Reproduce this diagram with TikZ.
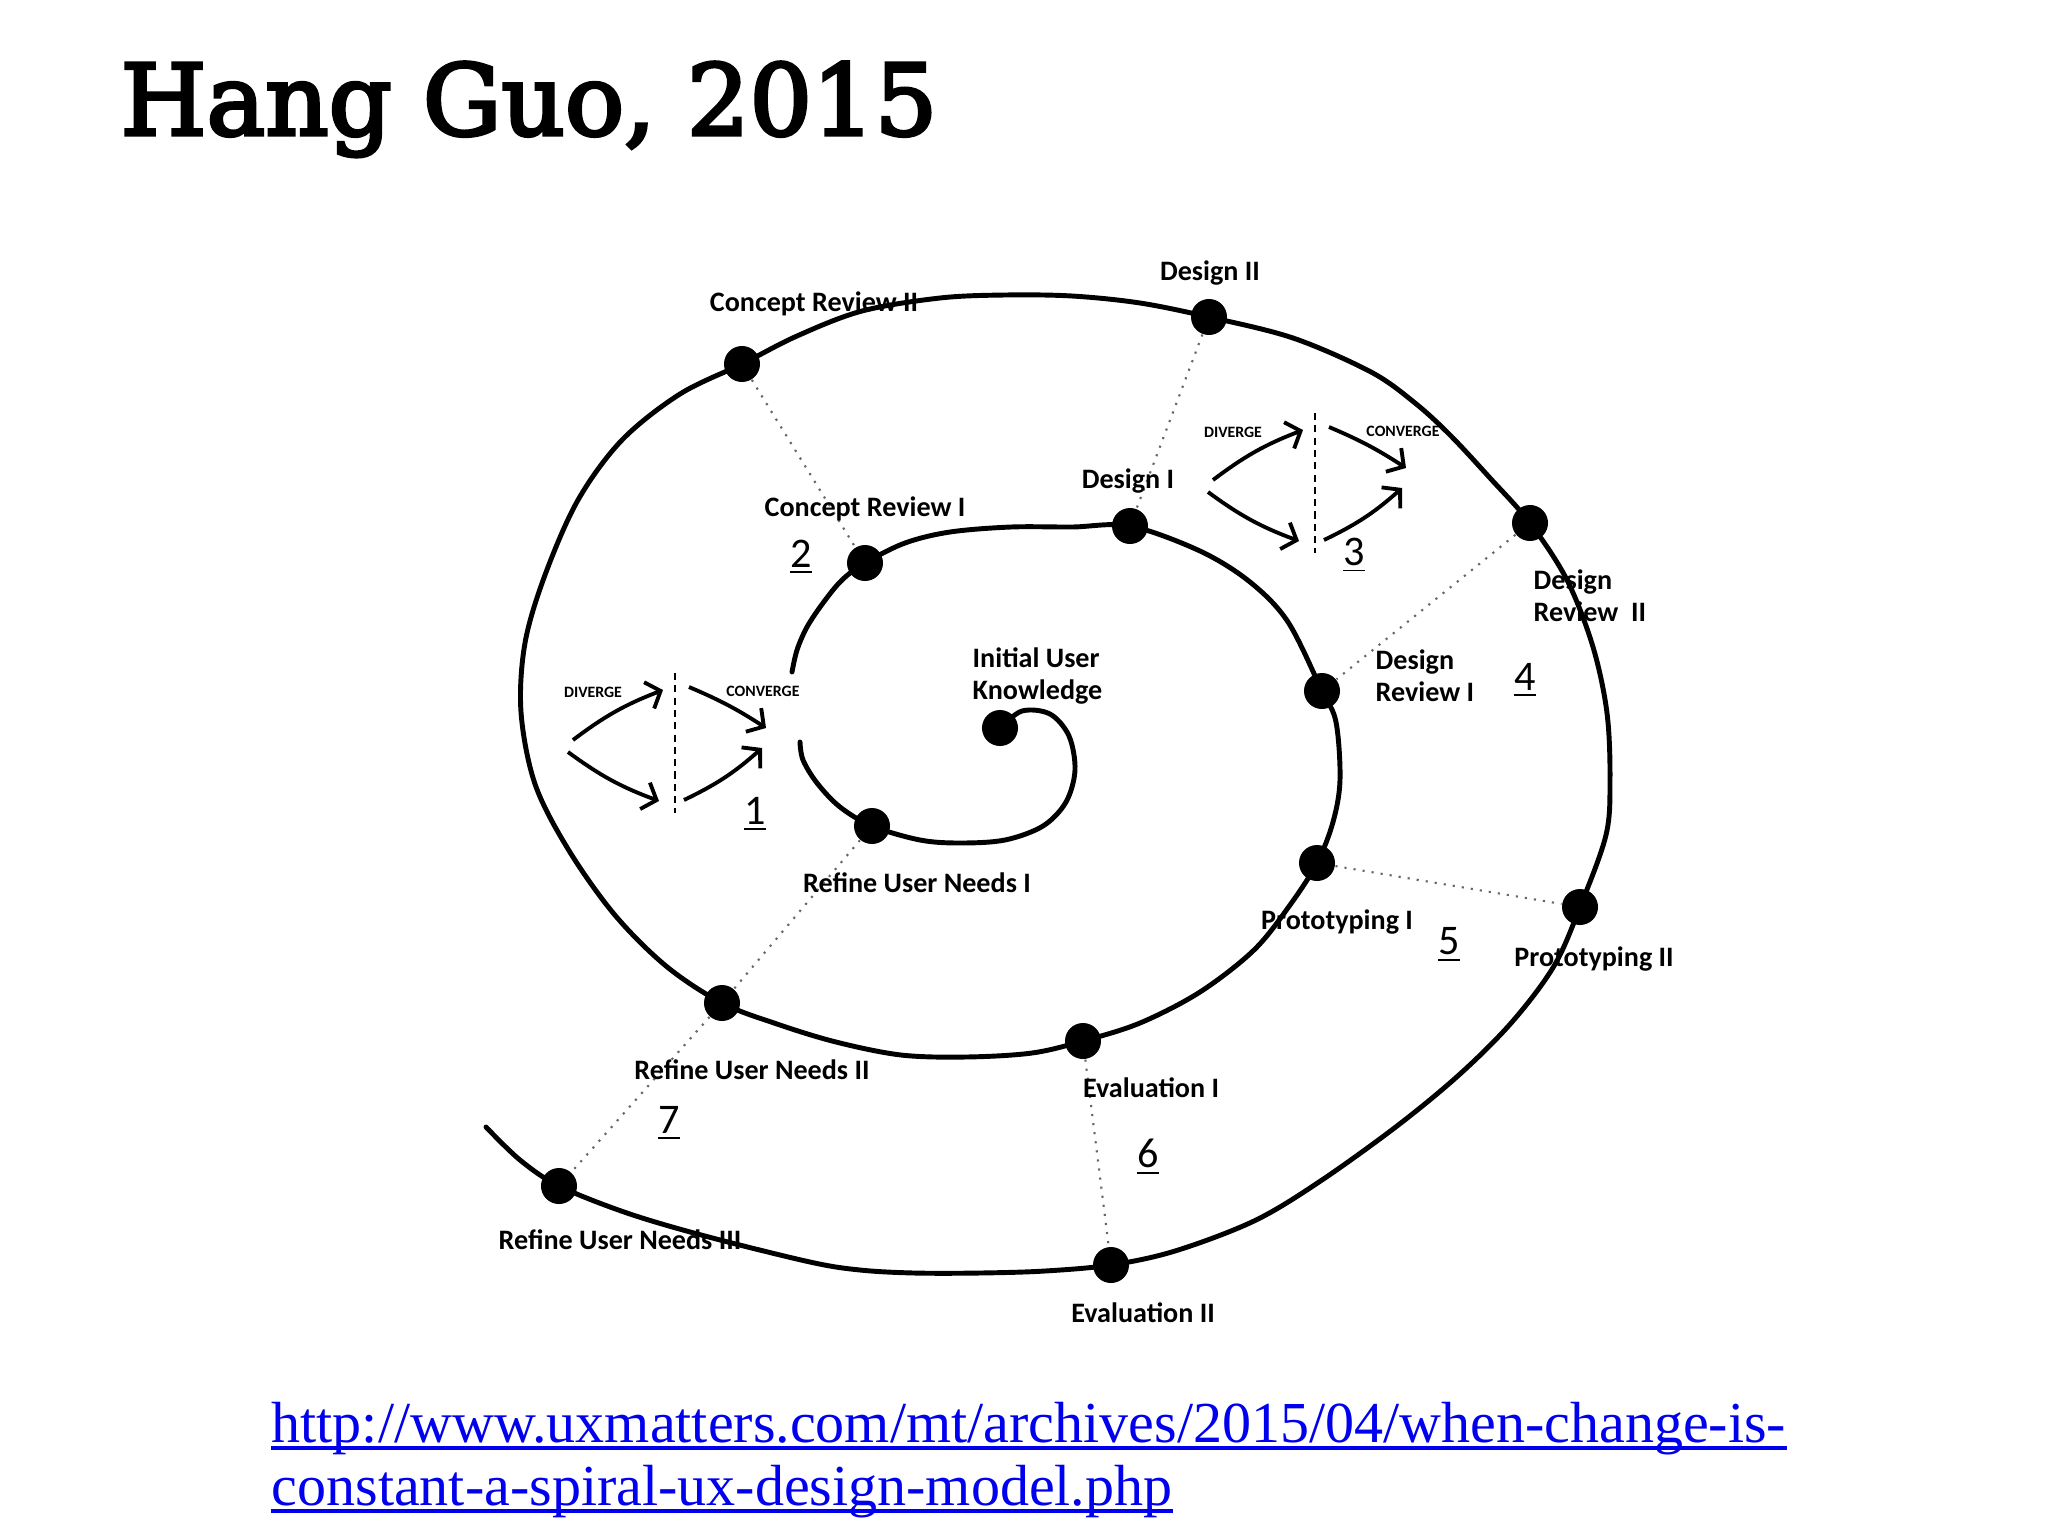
\documentclass[tikz,border=0pt]{standalone}
\usepackage{fontspec}
\setmainfont{Carlito}
\newfontfamily\titlefont[FakeBold=3.5]{DejaVu Serif}
\newfontfamily\urlfont{Liberation Serif}
\usepackage{xcolor}
\usetikzlibrary{shapes,arrows,arrows.meta,positioning,calc}

\definecolor{linkblue}{RGB}{0,0,238}

\tikzset{
  dot/.style={circle, fill=black, inner sep=0pt, minimum size=0.36cm},
  spiral/.style={line width=1.4pt, line cap=round},
  guide/.style={dotted, line width=0.6pt, black!60},
  stage/.style={font=\bfseries\fontsize{8}{9.2}\selectfont, inner sep=0pt},
  phase/.style={font=\fontsize{12}{13}\selectfont, inner sep=0pt},
  tiny/.style={font=\bfseries\fontsize{4.5}{5}\selectfont, inner sep=0pt},
  flow/.style={line width=1.1pt, -{Straight Barb[length=3.5pt,width=8pt]}},
  split/.style={dashed, dash pattern=on 2pt off 1.5pt, line width=0.5pt},
  url/.style={font=\urlfont\fontsize{16.5}{18}\selectfont, text=linkblue, inner sep=0pt},
  urlline/.style={linkblue, line width=1.1pt}
}

\begin{document}
\begin{tikzpicture}[x=0.01cm, y=-0.01cm]
    \fill[white] (0,0) rectangle (2048,1536);
    \useasboundingbox (0,0) rectangle (2048,1536);

    % title and source
    \node (title) [anchor=base west, inner sep=0pt, font=\titlefont\fontsize{28}{30}\selectfont] at (120,135) {Hang Guo, 2015};
    \node (url) [url, anchor=base west] at (271,1442) {http://www.uxmatters.com/mt/archives/2015/04/when-change-is-};
    \node (url2) [url, anchor=base west] at (271,1505) {constant-a-spiral-ux-design-model.php};
    \draw [urlline] ($(url.base west)+(0,6)$) -- ($(url.base east)+(0,6)$);
    \draw [urlline] ($(url2.base west)+(0,6)$) -- ($(url2.base east)+(0,6)$);

    % stages on the spiral
    \node (iuk) [dot] at (1000,728) {};
    \node (rn1) [dot] at (872,826) {};
    \node (cr1) [dot] at (865,563) {};
    \node (ds1) [dot] at (1130,526) {};
    \node (dr1) [dot] at (1322,691) {};
    \node (pt1) [dot] at (1317,863) {};
    \node (ev1) [dot] at (1083,1041) {};
    \node (rn2) [dot] at (722,1003) {};
    \node (cr2) [dot] at (742,364) {};
    \node (ds2) [dot] at (1209,317) {};
    \node (dr2) [dot] at (1530,523) {};
    \node (pt2) [dot] at (1580,907) {};
    \node (ev2) [dot] at (1111,1265) {};
    \node (rn3) [dot] at (559,1186) {};

    % the spiral
    \draw [spiral] plot [smooth, tension=0.55] coordinates {(iuk.center) (1022,711) (1050,714) (1069,736) (1075,770) (1066,802) (1043,826) (1005,840) (960,843) (920,840) (rn1.center) (840,807) (817,783) (803,760) (800,742)};
    \draw [spiral] plot [smooth, tension=0.55] coordinates {(792,672) (797,650) (807,627) (823,603) (842,580) (cr1.center) (905,543) (950,532) (1011,527) (1072,527) (ds1.center) (1200,551) (1250,582) (1288,622) (dr1.center) (1336,722) (1340,780) (1333,822) (pt1.center) (1290,905) (1254,950) (1200,992) (1140,1023) (ev1.center) (1032,1053) (966,1057) (901,1055) (836,1042) (777,1024) (rn2.center) (666,966) (614,914) (568,849) (535,784) (521,712) (525,643) (545,575) (578,500) (622,440) (680,394) (cr2.center) (797,336) (862,311) (940,298) (1005,295) (1072,296) (1140,303) (ds2.center) (1293,338) (1371,372) (1415,403) (1450,435) (1490,478) (dr2.center) (1567,580) (1593,647) (1607,713) (1610,780) (1606,835) (pt2.center) (1554,966) (1512,1022) (1460,1074) (1397,1126) (1319,1182) (1254,1221) (1175,1251) (ev2.center) (1045,1271) (980,1273) (914,1273) (860,1270) (810,1262) (705,1236) (627,1213) (rn3.center) (520,1160) (486,1127)};

    % dotted links between rounds
    \draw [guide] (cr2) -- (cr1);
    \draw [guide] (ds2) -- (ds1);
    \draw [guide] (dr2) -- (dr1);
    \draw [guide] (pt1) -- (pt2);
    \draw [guide] (ev1) -- (ev2);
    \draw [guide] (rn1) -- (rn2);
    \draw [guide] (rn2) -- (rn3);

    % stage labels
    \node (l-iuk) [stage, anchor=west, align=left] at (972,676) {Initial User\\Knowledge};
    \node (l-rn1) [stage, anchor=base] at (917,892) {Refine User Needs I};
    \node (l-cr1) [stage, anchor=base] at (865,516) {Concept Review I};
    \node (l-ds1) [stage, anchor=base] at (1128,488) {Design I};
    \node (l-dr1) [stage, anchor=west, align=left] at (1375,676) {Design\\Review I};
    \node (l-pt1) [stage, anchor=base] at (1337,929) {Prototyping I};
    \node (l-ev1) [stage, anchor=base] at (1151,1097) {Evaluation I};
    \node (l-rn2) [stage, anchor=base] at (752,1079) {Refine User Needs II};
    \node (l-cr2) [stage, anchor=base] at (814,311) {Concept Review II};
    \node (l-ds2) [stage, anchor=base] at (1210,280) {Design II};
    \node (l-dr2) [stage, anchor=west, align=left] at (1533,596) {Design\\Review~ II};
    \node (l-pt2) [stage, anchor=base] at (1594,966) {Prototyping II};
    \node (l-ev2) [stage, anchor=base] at (1143,1322) {Evaluation II};
    \node (l-rn3) [stage, anchor=base] at (620,1249) {Refine User Needs III};

    % phase numbers
    \node (n1) [phase] at (755,814) {\underline{1}};
    \node (n2) [phase] at (801,557) {\underline{2}};
    \node (n3) [phase] at (1354,555) {\underline{3}};
    \node (n4) [phase] at (1525,680) {\underline{4}};
    \node (n5) [phase] at (1449,945) {\underline{5}};
    \node (n6) [phase] at (1148,1157) {\underline{6}};
    \node (n7) [phase] at (669,1123) {\underline{7}};

    % diverge / converge sketches
    \foreach \m/\cx/\cy in {1/675/673, 3/1315/413} {
      \begin{scope}[shift={(\cx,\cy)}]
        \coordinate (top\m) at (0,0);
        \coordinate (bot\m) at (0,140);
        \coordinate (du-s\m) at (-102,67);
        \coordinate (du-e\m) at (-12,17);
        \coordinate (dd-s\m) at (-107,79);
        \coordinate (dd-e\m) at (-16,128);
        \coordinate (cu-s\m) at (14,14);
        \coordinate (cu-e\m) at (91,55);
        \coordinate (cd-s\m) at (9,127);
        \coordinate (cd-e\m) at (87,75);
        \draw [split] (top\m) -- (bot\m);
        \draw [flow] (du-s\m) to[bend left=8] (du-e\m);
        \draw [flow] (dd-s\m) to[bend right=8] (dd-e\m);
        \draw [flow] (cu-s\m) to[bend left=5] (cu-e\m);
        \draw [flow] (cd-s\m) to[bend right=8] (cd-e\m);
        \node (dvg\m) [tiny] at (-82,19) {DIVERGE};
        \node (cvg\m) [tiny] at (88,18) {CONVERGE};
      \end{scope}
    }
\end{tikzpicture}
\end{document}
